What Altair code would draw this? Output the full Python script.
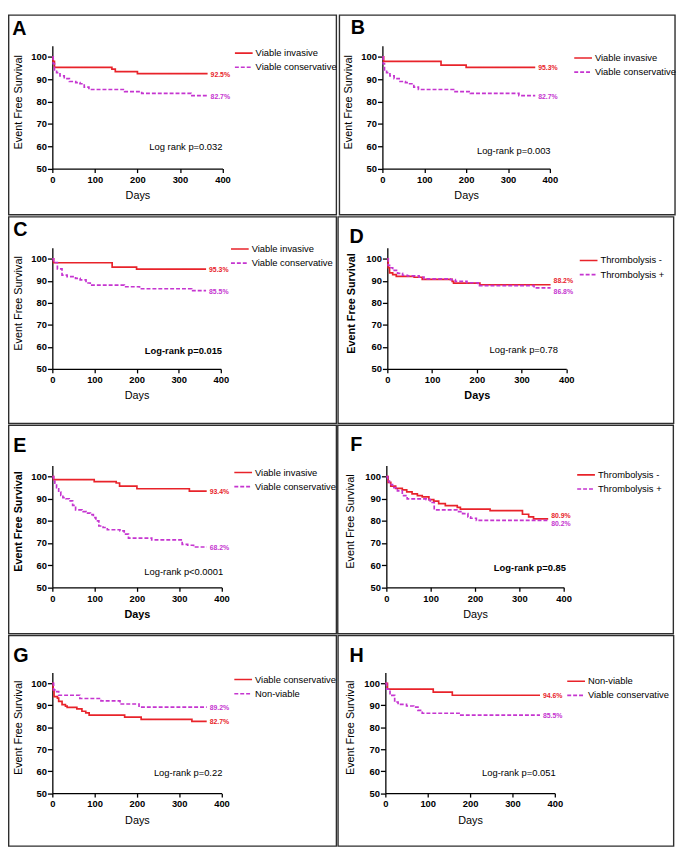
import altair as alt
import pandas as pd

RED = "#e8232a"
MAG = "#c535d0"

# ---------------- data ----------------
A1_DAYS = [0, 2, 5, 140, 148, 200, 365]
A1_SURV = [100, 98, 95.3, 94.5, 93.4, 92.5, 92.5]
A2_DAYS = [0, 2, 5, 10, 18, 28, 40, 55, 65, 75, 86, 170, 210, 326, 365]
A2_SURV = [100, 97, 94.2, 93, 91.5, 90.3, 89, 88.5, 88, 86.5, 85.4, 84.5, 83.7, 82.7, 82.7]

B1_DAYS = [0, 3, 140, 200, 365]
B1_SURV = [100, 98, 96.3, 95.3, 95.3]
B2_DAYS = [0, 2, 5, 10, 18, 28, 40, 55, 65, 75, 86, 170, 210, 326, 365]
B2_SURV = [100, 97, 94.2, 93, 91.5, 90.3, 89, 88.5, 88, 86.5, 85.4, 84.5, 83.7, 82.7, 82.7]

C1_DAYS = [0, 3, 142, 200, 365]
C1_SURV = [100, 98.2, 96.2, 95.3, 95.3]
C2_DAYS = [0, 3, 12, 23, 35, 55, 66, 80, 90, 171, 207, 331, 365]
C2_SURV = [100, 98.3, 95.4, 92.6, 91.9, 91.1, 90.4, 89, 88, 87.3, 86.4, 85.5, 85.5]

D1_DAYS = [0, 2, 5, 12, 20, 60, 78, 145, 148, 207, 365]
D1_SURV = [100, 96, 93.6, 92.8, 92, 91.6, 90.6, 89.7, 88.9, 88.2, 88.2]
D2_DAYS = [0, 2, 5, 12, 23, 34, 45, 71, 82, 141, 152, 178, 203, 328, 365]
D2_SURV = [100, 97, 95.9, 94.7, 93.4, 92.5, 92.2, 91.7, 90.9, 90.5, 89.7, 89.1, 87.8, 86.8, 86.8]

E1_DAYS = [0, 3, 99, 151, 159, 200, 324, 365]
E1_SURV = [100, 98.6, 97.7, 97.1, 95.7, 94.5, 93.4, 93.4]
E2_DAYS = [0, 3, 6, 10, 15, 20, 25, 32, 40, 48, 55, 70, 80, 90, 97, 103, 110,
           120, 130, 160, 170, 180, 235, 307, 320, 334, 365]
E2_SURV = [100, 98, 97, 95, 93, 91.5, 90.5, 90, 89, 87, 85, 84.2, 83.5, 82.8, 81.5, 80, 77.7,
           77, 76, 75.5, 74, 72.2, 71.4, 69.4, 69, 68.2, 68.2]

F1_DAYS = [0, 4, 10, 21, 36, 46, 58, 70, 81, 96, 107, 118, 133, 160, 167, 234, 307, 321, 332, 365]
F1_SURV = [100, 97.4, 95.7, 94.7, 94, 93.1, 92.2, 91.4, 90.8, 89.6, 88.9, 87.8, 86.9, 86.1, 85.3,
           84.6, 83, 81.8, 80.9, 80.9]
F2_DAYS = [0, 3, 7, 14, 25, 36, 47, 90, 99, 108, 159, 172, 184, 190, 203, 365]
F2_SURV = [100, 98, 96.4, 95, 93.5, 91.4, 89.9, 89.6, 88.3, 85, 84.2, 83.3, 81.8, 81.2, 80.2, 80.2]

G1_DAYS = [0, 2, 4, 12, 15, 23, 31, 35, 58, 70, 79, 87, 171, 210, 330, 365]
G1_SURV = [100, 97, 94, 93.3, 91.8, 90.3, 89.6, 89.1, 88.4, 87.3, 86.6, 85.5, 84.6, 83.6, 82.7, 82.7]
G2_DAYS = [0, 3, 8, 15, 65, 115, 160, 205, 365]
G2_SURV = [100, 97, 96.2, 94.6, 93.1, 92, 90.6, 89.2, 89.2]

H1_DAYS = [0, 5, 113, 158, 365]
H1_SURV = [100, 97.4, 96, 94.6, 94.6]
H2_DAYS = [0, 3, 11, 22, 30, 50, 67, 77, 87, 174, 365]
H2_SURV = [100, 97.4, 94.5, 91.5, 90.4, 89.7, 89.2, 87.7, 86.4, 85.5, 85.5]

LETTERS = ["A", "B", "C", "D", "E", "F", "G", "H"]
SERIES_NAMES = [
    ["Viable invasive", "Viable conservative"],
    ["Viable invasive", "Viable conservative"],
    ["Viable invasive", "Viable conservative"],
    ["Thrombolysis -", "Thrombolysis +"],
    ["Viable invasive", "Viable conservative"],
    ["Thrombolysis -", "Thrombolysis +"],
    ["Viable conservative", "Non-viable"],
    ["Non-viable", "Viable conservative"],
]
SERIES = [
    [(A1_DAYS, A1_SURV), (A2_DAYS, A2_SURV)],
    [(B1_DAYS, B1_SURV), (B2_DAYS, B2_SURV)],
    [(C1_DAYS, C1_SURV), (C2_DAYS, C2_SURV)],
    [(D1_DAYS, D1_SURV), (D2_DAYS, D2_SURV)],
    [(E1_DAYS, E1_SURV), (E2_DAYS, E2_SURV)],
    [(F1_DAYS, F1_SURV), (F2_DAYS, F2_SURV)],
    [(G1_DAYS, G1_SURV), (G2_DAYS, G2_SURV)],
    [(H1_DAYS, H1_SURV), (H2_DAYS, H2_SURV)],
]
END_LABELS = [
    ["92.5%", "82.7%"], ["95.3%", "82.7%"], ["95.3%", "85.5%"], ["88.2%", "86.8%"],
    ["93.4%", "68.2%"], ["80.9%", "80.2%"], ["82.7%", "89.2%"], ["94.6%", "85.5%"],
]
LOGRANK_TEXT = [
    "Log rank p=0.032", "Log-rank p=0.003", "Log-rank p=0.015", "Log-rank p=0.78",
    "Log-rank p<0.0001", "Log-rank p=0.85", "Log-rank p=0.22", "Log-rank p=0.051",
]
X_TICKS = [0, 100, 200, 300, 400]
Y_TICKS = [50, 60, 70, 80, 90, 100]

# ---------------- layout / style ----------------
LOGRANK_BOLD = [False, False, True, False, False, True, False, False]
AXIS_TITLE_BOLD = [False, False, False, True, True, False, False, False]
LOGRANK_POS = [(400, 58.2), (401.6, 56.5), (403, 56.6), (381.6, 57.2),
               (404, 55.6), (405, 57.2), (402, 57.6), (402, 57.8)]
LABEL_DY = [[1, 1], [1, 1], [1, 1], [-3.5, 4], [1, 1], [-2.5, 3.5], [1, 1], [1, 1]]
PLOT_X = [53, 386.3, 53, 392.7, 53, 392, 53, 390.7]
PLOT_W = [172.7, 170, 171, 181.6, 171.7, 180, 171.7, 172]
ROW_TOP = [39.8, 244, 464.5, 674]
ROW_H = [124.7, 123, 123.7, 122.6]
CELL_X = [(8, 342), (342, 684)]
CELL_Y = [(8, 212), (212, 423), (423, 636), (636, 851)]
LETTER_POS = [(12.3, 29.3), (354.3, 27.7), (13.3, 232), (354.3, 238.7),
              (13.3, 450.7), (355.3, 449.7), (13.3, 663), (354.3, 663)]
LEGEND_POS = [(237.3, 47.3), (580, 52.3), (233.3, 245.3), (587, 257),
              (236.7, 471.7), (584.7, 474), (236.7, 681.3), (574.3, 683)]
YTITLE_X = [-31.5, -31.5, -31.3, -33.5, -31.3, -33.3, -31.3, -32]
BORDER_W = 1.4
LINE_W = 1.7
DASH = [4, 2]
FONT = "Liberation Sans"


def build_panel(i):
    col, row = i % 2, i // 2
    px, w = PLOT_X[i], PLOT_W[i]
    py, h = ROW_TOP[row], ROW_H[row]
    names = SERIES_NAMES[i]
    recs = []
    for k in range(2):
        days, surv = SERIES[i][k]
        for d, s in zip(days, surv):
            recs.append({"series": names[k], "day": d, "surv": s})
    df = pd.DataFrame(recs)
    tw = "bold" if AXIS_TITLE_BOLD[i] else "normal"

    x_enc = alt.X(
        "day:Q",
        scale=alt.Scale(domain=[0, 400], nice=False, zero=False),
        axis=alt.Axis(values=X_TICKS, title="Days", grid=False, format="d",
                      labelFontSize=9.5, labelFontWeight="bold", labelColor="black",
                      labelPadding=2, labelFlush=False, tickSize=4, tickWidth=1.3,
                      tickColor="black", domainColor="black", domainWidth=1.3,
                      titleFontSize=11, titleFontWeight=tw, titleColor="black",
                      titleY=30.3, titleBaseline="alphabetic"),
    )
    y_enc = alt.Y(
        "surv:Q",
        scale=alt.Scale(domain=[50, 105], nice=False, zero=False),
        axis=alt.Axis(values=Y_TICKS, title="Event Free Survival", grid=False, format="d",
                      labelFontSize=9.5, labelFontWeight="bold", labelColor="black",
                      labelPadding=1, labelFlush=False, tickSize=5, tickWidth=1.3,
                      tickColor="black", domainColor="black", domainWidth=1.3,
                      titleFontSize=11, titleFontWeight=tw, titleColor="black",
                      titleX=YTITLE_X[i], titleY=h / 2 - 5.5, titleBaseline="alphabetic"),
    )

    leg = alt.Legend(orient="none", legendX=LEGEND_POS[i][0] - px,
                     legendY=LEGEND_POS[i][1] - py - 6, title=None,
                     symbolType="stroke", symbolSize=324, symbolStrokeWidth=1.6,
                     labelFontSize=9.5, labelColor="black", labelFont=FONT,
                     labelOffset=2, clipHeight=12, rowPadding=2.3, padding=0)

    lines = alt.Chart(df).mark_line(interpolate="step-after", strokeWidth=LINE_W).encode(
        x=x_enc,
        y=y_enc,
        color=alt.Color("series:N", scale=alt.Scale(domain=names, range=[RED, MAG]), legend=leg),
        strokeDash=alt.StrokeDash("series:N", scale=alt.Scale(domain=names, range=[[1, 0], DASH]),
                                  legend=leg),
    )

    cx1, cx2 = CELL_X[col]
    cy1, cy2 = CELL_Y[row]
    ins = BORDER_W / 2
    border = alt.Chart(pd.DataFrame({"z": [0]})).mark_rect(
        fillOpacity=0, stroke="#2e2e2e", strokeWidth=BORDER_W
    ).encode(
        x=alt.value(cx1 - px + ins), x2=alt.value(cx2 - px - ins),
        y=alt.value(cy1 - py + ins), y2=alt.value(cy2 - py - ins),
    )

    layers = [border, lines]
    for k in range(2):
        days, surv = SERIES[i][k]
        last = pd.DataFrame({"day": [days[-1]], "surv": [surv[-1]], "lab": [END_LABELS[i][k]]})
        layers.append(
            alt.Chart(last).mark_text(align="left", baseline="middle", dx=3, dy=LABEL_DY[i][k],
                                      fontSize=7, fontWeight="bold", color=[RED, MAG][k])
            .encode(x=x_enc, y=y_enc, text="lab:N")
        )

    lr = pd.DataFrame({"day": [LOGRANK_POS[i][0]], "surv": [LOGRANK_POS[i][1]],
                       "txt": [LOGRANK_TEXT[i]]})
    layers.append(
        alt.Chart(lr).mark_text(align="right", baseline="alphabetic", fontSize=9.5,
                                fontWeight="bold" if LOGRANK_BOLD[i] else "normal",
                                color="black")
        .encode(x=x_enc, y=y_enc, text="txt:N")
    )

    layers.append(
        alt.Chart(pd.DataFrame({"t": [LETTERS[i]]})).mark_text(
            align="left", baseline="alphabetic", fontSize=20, fontWeight="bold", color="black"
        ).encode(x=alt.value(LETTER_POS[i][0] - px), y=alt.value(LETTER_POS[i][1] - py), text="t:N")
    )

    return alt.layer(*layers).properties(width=w, height=h)


rows = []
for r in range(4):
    rows.append(
        alt.hconcat(build_panel(2 * r), build_panel(2 * r + 1), spacing=0)
        .resolve_scale(color="independent", strokeDash="independent")
    )

chart = (
    alt.vconcat(*rows, spacing=0)
    .resolve_scale(color="independent", strokeDash="independent")
    .properties(padding=0)
    .configure(font=FONT)
    .configure_view(strokeWidth=0)
)

chart.save("out.html", embed_options={"renderer": "svg", "actions": False})
